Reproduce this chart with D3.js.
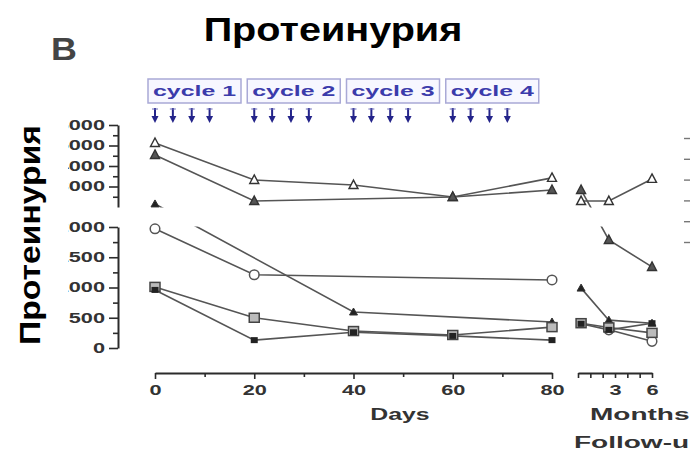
<!DOCTYPE html>
<html>
<head>
<meta charset="utf-8">
<script src="https://cdn.jsdelivr.net/npm/d3@7"></script>
<style>
  html, body { margin: 0; padding: 0; background: #fff; }
  svg { display: block; font-family: "Liberation Sans", Arial, sans-serif; }
</style>
</head>
<body>
<svg id="chart" width="690" height="454"></svg>
<script>
// ---- data -------------------------------------------------------------
const days = [0, 20, 40, 60, 80];
const followMonths = [0.25, 2.5, 6];

// proteinuria (mg/day) per patient; null = not measured
const seriesT1 = [5120, 3320, 3070, 2490, 3420];
const seriesT2 = [4540, 2290, null, 2490, 2830];
const seriesF1 = [2150, null, 595, null, 430];
const seriesO1 = [1970, 1210, null, null, 1125];
const seriesS1 = [1010, 500, 280, 215, 345];
const seriesF2 = [960, 130, 260, 200, 130];

const followT1 = [2290, 2290, 3370];
const followT2 = [2830, 1785, 1340];
const followF1 = [990, 460, 410];
const followO1 = [null, 300, 110];
const followS1 = [410, 340, 250];
const followF2 = [400, 300, 410];

const cycleLabels = ["cycle 1", "cycle 2", "cycle 3", "cycle 4"];
const cycleStartDays = [0, 20, 40, 60];
const doseOffsets = [0, 3.6, 7.4, 11];

const lowTicks = [0, 500, 1000, 1500, 2000];
const highTicks = [3000, 4000, 5000, 6000];
const dayTicks = [0, 20, 40, 60, 80];
const monthTicks = [0, 1, 2, 3, 4, 5, 6];
const monthLabels = [3, 6];

// ---- scales -----------------------------------------------------------
const svg = d3.select("#chart");
const xDays = d3.scaleLinear().domain([0, 80]).range([155, 552]);
const xMonths = d3.scaleLinear().domain([0, 6]).range([578, 652]);
const yLow = d3.scaleLinear().domain([0, 2000]).range([348, 227]);
const yHigh = d3.scaleLinear().domain([2000, 6000]).range([207, 125]);
const yRight = d3.scaleLinear().domain([0, 5000]).range([242, 138]);
const y = v => (v <= 2000 ? yLow(v) : yHigh(v));

const ink = "#2b2b2b";
const lineColor = "#555";

// widen glyphs horizontally by factor k
function stretch(sel, k) {
  sel.each(function () {
    const w = this.getComputedTextLength();
    if (w > 0) d3.select(this).attr("textLength", w * k).attr("lengthAdjust", "spacingAndGlyphs");
  });
}

// ---- titles -----------------------------------------------------------
svg.append("text").attr("x", 64).attr("y", 60).attr("text-anchor", "middle")
  .attr("font-size", 32).attr("font-weight", "bold").attr("fill", "#444").text("B")
  .call(stretch, 1.12);
svg.append("text").attr("x", 333).attr("y", 41).attr("text-anchor", "middle")
  .attr("font-size", 33).attr("font-weight", "bold").attr("fill", "#000")
  .text("Протеинурия").call(stretch, 1.2);

// ---- treatment cycles -------------------------------------------------
const cyc = svg.append("g");
cycleStartDays.forEach((d0, i) => {
  const bx = xDays(d0) - 7;
  cyc.append("rect").attr("x", bx).attr("y", 79).attr("width", 93).attr("height", 24)
    .attr("fill", "#f7f7ff").attr("stroke", "#a9a9d6").attr("stroke-width", 1.5);
  cyc.append("text").attr("x", bx + 46.5).attr("y", 96).attr("text-anchor", "middle")
    .attr("font-size", 14).attr("font-weight", "bold").attr("fill", "#3b3bab")
    .attr("textLength", 83).attr("lengthAdjust", "spacingAndGlyphs").text(cycleLabels[i]);
  doseOffsets.forEach(off => {
    const ax = xDays(d0 + off);
    cyc.append("line").attr("x1", ax).attr("x2", ax).attr("y1", 108).attr("y2", 118)
      .attr("stroke", "#24248a").attr("stroke-width", 2);
    cyc.append("path").attr("d", `M${ax - 3.5},${116}L${ax + 3.5},${116}L${ax},${123}Z`)
      .attr("fill", "#24248a");
    cyc.append("line").attr("x1", ax - 3).attr("x2", ax + 3).attr("y1", 109).attr("y2", 109)
      .attr("stroke", "#6a6ab8").attr("stroke-width", 1);
  });
});

// ---- lines ------------------------------------------------------------
const dayLine = d3.line().x(d => xDays(d.x)).y(d => y(d.v));
const monthLine = d3.line().x(d => xMonths(d.x)).y(d => y(d.v));
const pts = (xs, vs) => xs.map((x, i) => ({ x, v: vs[i] })).filter(d => d.v !== null);

const allSeries = [
  { day: seriesT1, fu: followT1, shape: "triUp", fill: "#fff" },
  { day: seriesT2, fu: followT2, shape: "triUp", fill: "#555" },
  { day: seriesF1, fu: followF1, shape: "smallTri", fill: "#222" },
  { day: seriesO1, fu: followO1, shape: "circle", fill: "#fff" },
  { day: seriesS1, fu: followS1, shape: "square", fill: "#bbb" },
  { day: seriesF2, fu: followF2, shape: "smallSq", fill: "#222" }
];

const lines = svg.append("g").attr("fill", "none").attr("stroke", lineColor).attr("stroke-width", 1.6);
allSeries.forEach(s => {
  lines.append("path").attr("d", dayLine(pts(days, s.day)));
  lines.append("path").attr("d", monthLine(pts(followMonths, s.fu)));
});

// axis break: blank band between the two y segments
svg.append("rect").attr("x", 125).attr("y", 207.5).attr("width", 550).attr("height", 19)
  .attr("fill", "#fff");

// ---- markers ----------------------------------------------------------
function marker(g, shape, cx, cy, fill) {
  if (shape === "triUp") {
    g.append("path").attr("d", `M${cx},${cy - 5}L${cx + 4.5},${cy + 3.5}L${cx - 4.5},${cy + 3.5}Z`)
      .attr("fill", fill).attr("stroke", "#333").attr("stroke-width", 1.4);
  } else if (shape === "smallTri") {
    g.append("path").attr("d", `M${cx},${cy - 4}L${cx + 4},${cy + 3}L${cx - 4},${cy + 3}Z`)
      .attr("fill", fill).attr("stroke", "#333").attr("stroke-width", 1);
  } else if (shape === "circle") {
    g.append("circle").attr("cx", cx).attr("cy", cy).attr("r", 4.8)
      .attr("fill", fill).attr("stroke", "#555").attr("stroke-width", 1.5);
  } else if (shape === "square") {
    g.append("rect").attr("x", cx - 5).attr("y", cy - 4.5).attr("width", 10).attr("height", 9)
      .attr("fill", fill).attr("stroke", "#444").attr("stroke-width", 1.5);
  } else {
    g.append("rect").attr("x", cx - 3.5).attr("y", cy - 3).attr("width", 7).attr("height", 6)
      .attr("fill", fill);
  }
}
const mk = svg.append("g");
allSeries.forEach(s => {
  pts(days, s.day).forEach(d => marker(mk, s.shape, xDays(d.x), y(d.v), s.fill));
  pts(followMonths, s.fu).forEach(d => marker(mk, s.shape, xMonths(d.x), y(d.v), s.fill));
});

// ---- y axes (broken) --------------------------------------------------
function styleAxis(g) {
  g.selectAll(".domain").attr("stroke", ink).attr("stroke-width", 2);
  g.selectAll(".tick line").attr("stroke", ink).attr("stroke-width", 1.6);
  g.selectAll("text").attr("font-size", 14).attr("font-weight", "bold").attr("fill", "#333")
    .attr("font-family", "Liberation Sans, Arial, sans-serif")
    .call(stretch, 1.55);
}
const axisX = 118;
const minorLow = d3.range(250, 2000, 500);
const minorHigh = d3.range(2500, 6000, 1000);

svg.append("g").attr("transform", `translate(${axisX},0)`)
  .call(d3.axisLeft(yLow).tickValues(lowTicks).tickSize(9).tickSizeOuter(0).tickPadding(4).tickFormat(d3.format("d")))
  .call(styleAxis);
svg.append("g").attr("transform", `translate(${axisX},0)`)
  .call(d3.axisLeft(yLow).tickValues(minorLow).tickSize(5).tickFormat(""))
  .call(g => g.select(".domain").remove()).call(styleAxis);

svg.append("g").attr("transform", `translate(${axisX},0)`)
  .call(d3.axisLeft(yHigh).tickValues(highTicks).tickSize(9).tickSizeOuter(0).tickPadding(4).tickFormat(d3.format("d")))
  .call(styleAxis);
svg.append("g").attr("transform", `translate(${axisX},0)`)
  .call(d3.axisLeft(yHigh).tickValues(minorHigh).tickSize(5).tickFormat(""))
  .call(g => g.select(".domain").remove()).call(styleAxis);

// right-hand axis, only its ticks reach into view
svg.append("g").attr("transform", "translate(691,0)")
  .call(d3.axisLeft(yRight).ticks(5).tickSize(7).tickFormat(""))
  .call(g => g.select(".domain").remove())
  .call(g => g.selectAll(".tick line").attr("stroke", "#777").attr("stroke-width", 1.4));

// ---- x axes -----------------------------------------------------------
const axisY = 373;
svg.append("g").attr("transform", `translate(0,${axisY})`)
  .call(d3.axisBottom(xDays).tickValues(dayTicks).tickSize(6).tickSizeOuter(0).tickPadding(6))
  .call(styleAxis);
svg.append("g").attr("transform", `translate(0,${axisY})`)
  .call(d3.axisBottom(xDays).tickValues([10, 30, 50, 70]).tickSize(4).tickFormat(""))
  .call(g => g.select(".domain").remove()).call(styleAxis);

svg.append("g").attr("transform", `translate(0,${axisY})`)
  .call(d3.axisBottom(xMonths).tickValues(monthTicks).tickSize(5).tickSizeOuter(0).tickPadding(7)
    .tickFormat(d => (monthLabels.includes(d) ? d : "")))
  .call(styleAxis);

const axisTitle = (x, yy, anchor, txt, k) =>
  svg.append("text").attr("x", x).attr("y", yy).attr("text-anchor", anchor)
    .attr("font-size", 16).attr("font-weight", "bold").attr("fill", "#333").text(txt)
    .call(stretch, k);
axisTitle(400, 420, "middle", "Days", 1.55);
axisTitle(590, 420, "start", "Months", 1.75);
axisTitle(574, 448, "start", "Follow-up", 1.75);

// ---- rotated y title on its own white panel ---------------------------
svg.append("rect").attr("x", 0).attr("y", 112).attr("width", 68).attr("height", 242).attr("fill", "#fff");
svg.append("text").attr("transform", "translate(40,235) rotate(-90)").attr("text-anchor", "middle")
  .attr("font-size", 30).attr("font-weight", "bold").attr("fill", "#000")
  .attr("textLength", 220).attr("lengthAdjust", "spacingAndGlyphs").text("Протеинурия");
</script>
</body>
</html>
